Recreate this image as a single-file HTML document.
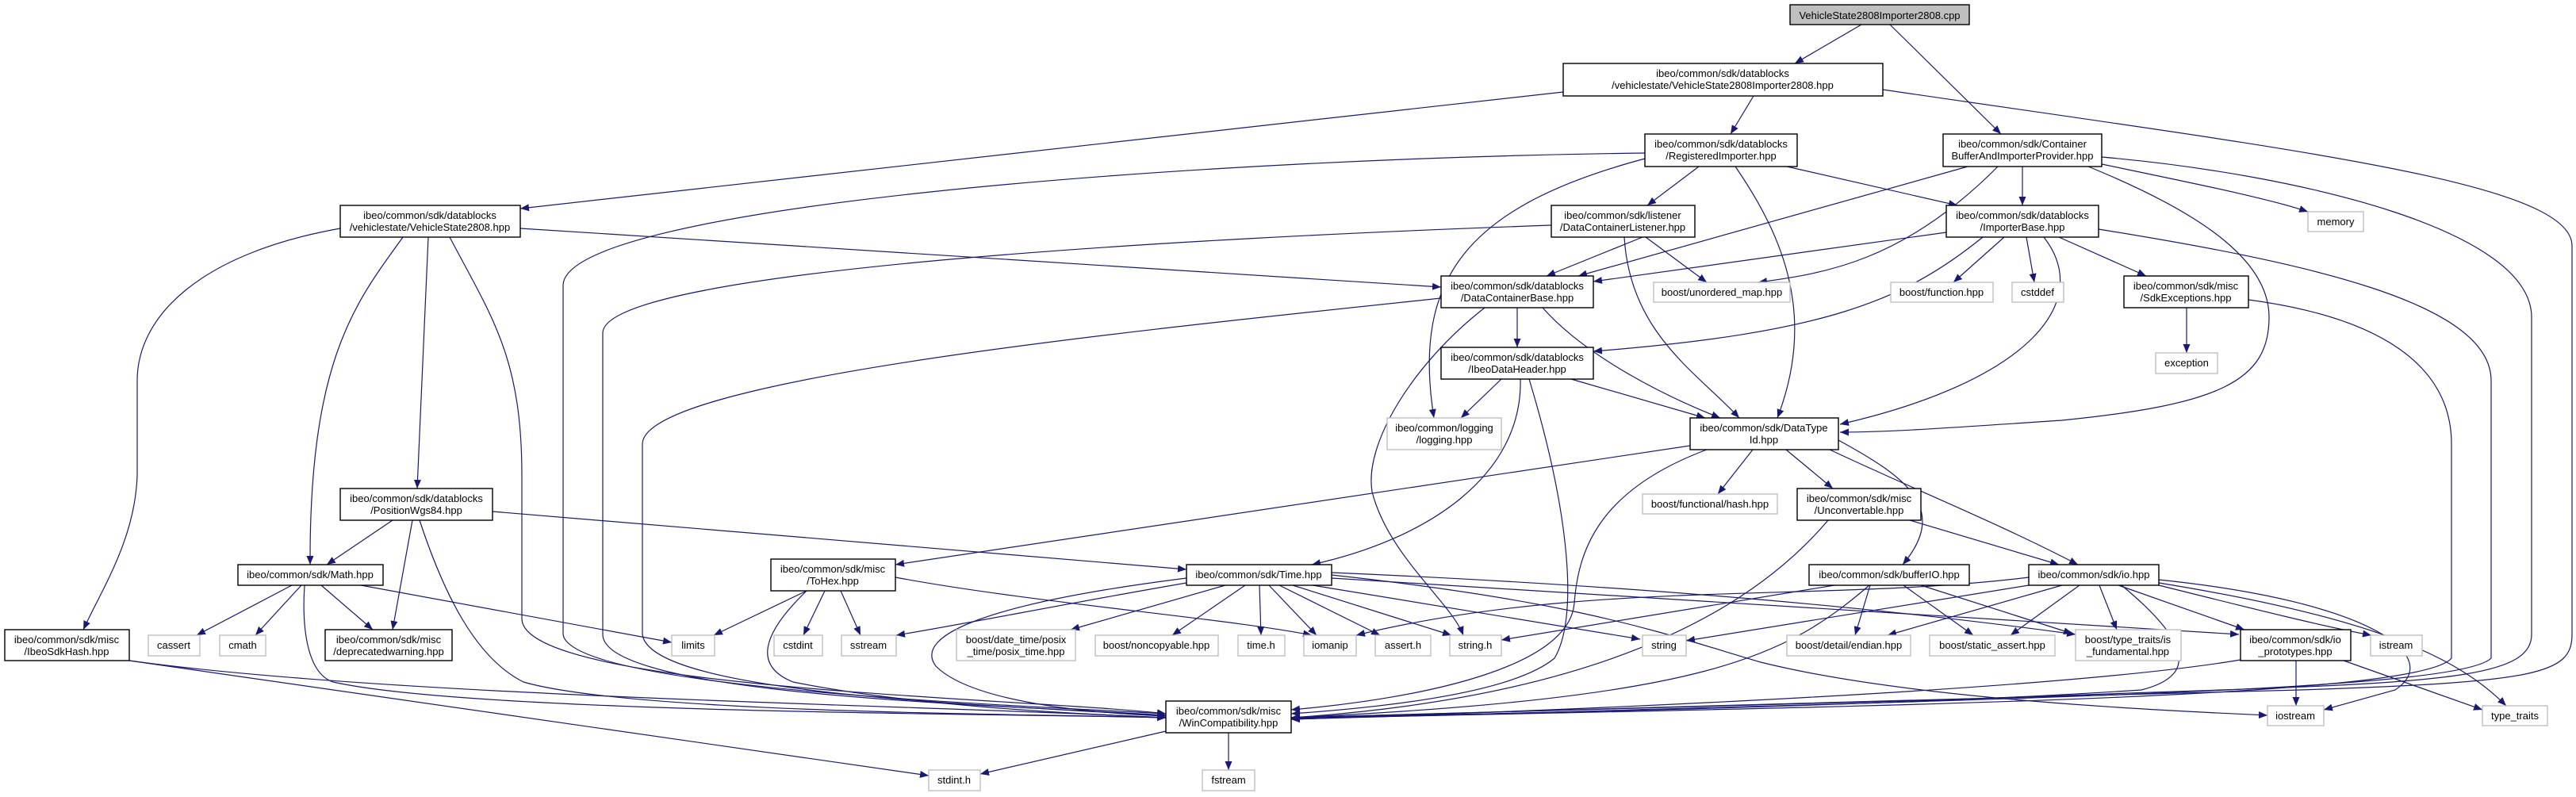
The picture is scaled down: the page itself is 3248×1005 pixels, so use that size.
<!DOCTYPE html>
<html><head><meta charset="utf-8"><style>
html,body{margin:0;padding:0;background:#fff;}
svg{display:block;}
text{font-family:"Liberation Sans",Arial,sans-serif;font-size:13px;fill:#000;text-anchor:middle;}
.n{fill:#fff;stroke:#000;stroke-width:1.4;}
.g{fill:#fff;stroke:#bfbfbf;stroke-width:1.4;}
.c{fill:#bfbfbf;stroke:#000;stroke-width:1.4;}
path.e{fill:none;stroke:#191970;stroke-width:1.2;marker-end:url(#a);}
</style></head><body>
<svg width="3248" height="1005" viewBox="0 0 3248 1005" xmlns="http://www.w3.org/2000/svg">
<defs><marker id="a" markerUnits="userSpaceOnUse" markerWidth="12" markerHeight="10" refX="11" refY="4.5" orient="auto"><path d="M0,0 L11,4.5 L0,9 z" fill="#191970"/></marker></defs>
<g>
<path class="e" d="M2347,31 L2263,80"/>
<path class="e" d="M2383,31 L2523,169"/>
<path class="e" d="M1971,116 L656,263"/>
<path class="e" d="M2211,121 L2182,169"/>
<path class="e" d="M2374,113 C2900,190 3243,230 3243,310 L3243,800 C3243,850 3200,860 2900,870 C2500,880 1800,900 1628,905"/>
<path class="e" d="M2142,210 L2077,259"/>
<path class="e" d="M2253,210 L2468,259"/>
<path class="e" d="M2188,210 C2250,300 2290,400 2241,527"/>
<path class="e" d="M2074,200 C1850,260 1780,350 1808,527"/>
<path class="e" d="M2074,193 C1500,200 710,260 710,360 L710,800 C720,870 1300,890 1470,900"/>
<path class="e" d="M656,288 L1817,362"/>
<path class="e" d="M540,299 L526,616"/>
<path class="e" d="M508,299 C450,380 390,450 391,712"/>
<path class="e" d="M429,288 C250,320 173,400 173,480 L173,600 C170,680 130,740 105,794"/>
<path class="e" d="M567,299 C620,400 658,450 658,600 L658,780 C658,870 1300,880 1470,900"/>
<path class="e" d="M2550,210 L2550,259"/>
<path class="e" d="M2481,210 L1990,348"/>
<path class="e" d="M2519,210 C2400,330 2300,345 2217,356"/>
<path class="e" d="M2650,207 C2760,230 2860,250 2910,267"/>
<path class="e" d="M2633,210 C2780,270 2861,330 2861,400 C2861,480 2800,510 2600,530 C2450,540 2380,545 2320,545"/>
<path class="e" d="M2650,198 C2900,220 3192,290 3192,400 L3192,800 C3192,850 3100,860 2800,870 C2400,885 1900,900 1628,905"/>
<path class="e" d="M2071,299 L1950,348"/>
<path class="e" d="M2075,299 L2152,356"/>
<path class="e" d="M2048,299 C2055,420 2140,470 2193,527"/>
<path class="e" d="M1956,284 C1500,300 760,340 760,420 L760,800 C760,880 1300,890 1470,902"/>
<path class="e" d="M2454,293 L2009,355"/>
<path class="e" d="M2500,299 C2400,380 2300,420 2009,443"/>
<path class="e" d="M2577,299 C2640,380 2560,480 2320,535"/>
<path class="e" d="M2527,299 L2463,356"/>
<path class="e" d="M2555,299 L2565,356"/>
<path class="e" d="M2596,299 L2706,348"/>
<path class="e" d="M2646,289 C2900,330 3141,380 3141,480 L3141,830 C3100,870 2600,880 1628,907"/>
<path class="e" d="M2757,388 L2757,445"/>
<path class="e" d="M2835,378 C3000,400 3091,460 3091,560 L3091,830 C3050,880 2400,890 1628,906"/>
<path class="e" d="M1913,388 L1913,438"/>
<path class="e" d="M1945,388 C2000,450 2100,500 2169,527"/>
<path class="e" d="M1817,376 C1400,420 810,480 810,560 L810,800 C820,880 1300,890 1470,903"/>
<path class="e" d="M1872,388 C1780,460 1720,560 1730,620 C1750,700 1830,760 1845,801"/>
<path class="e" d="M1893,478 L1842,527"/>
<path class="e" d="M1981,478 L2150,527"/>
<path class="e" d="M1917,478 C1920,600 1800,680 1654,712"/>
<path class="e" d="M1928,478 C1980,650 1990,780 1960,830 C1900,880 1700,895 1628,900"/>
<path class="e" d="M2210,567 L2166,623"/>
<path class="e" d="M2252,567 L2311,616"/>
<path class="e" d="M2318,555 C2400,600 2460,640 2399,712"/>
<path class="e" d="M2307,567 C2420,620 2520,660 2620,712"/>
<path class="e" d="M2131,562 L1129,712"/>
<path class="e" d="M2152,567 C2010,620 1990,700 1985,760 C1980,840 1800,880 1628,895"/>
<path class="e" d="M2408,656 L2596,712"/>
<path class="e" d="M2305,656 C2200,780 2000,880 1628,905"/>
<path class="e" d="M495,656 L412,712"/>
<path class="e" d="M520,656 L495,794"/>
<path class="e" d="M621,645 L1496,718"/>
<path class="e" d="M529,656 C560,750 600,830 660,860 C800,900 1300,900 1470,905"/>
<path class="e" d="M368,738 L248,801"/>
<path class="e" d="M380,738 L322,801"/>
<path class="e" d="M405,738 L470,794"/>
<path class="e" d="M455,738 L847,810"/>
<path class="e" d="M384,738 C380,800 390,850 420,860 C600,900 1300,900 1470,905"/>
<path class="e" d="M163,833 C500,880 1200,890 1470,905"/>
<path class="e" d="M163,833 L1171,978"/>
<path class="e" d="M1017,745 L900,801"/>
<path class="e" d="M1040,745 L1013,801"/>
<path class="e" d="M1060,745 L1085,801"/>
<path class="e" d="M1129,728 C1300,760 1550,780 1654,801"/>
<path class="e" d="M1017,745 C960,800 950,840 1000,860 C1150,890 1350,900 1470,905"/>
<path class="e" d="M1496,735 C1350,760 1200,790 1130,801"/>
<path class="e" d="M1545,738 L1350,794"/>
<path class="e" d="M1570,738 L1478,801"/>
<path class="e" d="M1588,738 L1590,801"/>
<path class="e" d="M1600,738 L1660,801"/>
<path class="e" d="M1613,738 L1740,801"/>
<path class="e" d="M1630,738 L1830,801"/>
<path class="e" d="M1655,738 L2068,806"/>
<path class="e" d="M1679,729 L2823,800"/>
<path class="e" d="M1679,725 C2000,760 2100,800 2220,835 C2400,880 2700,895 2859,902"/>
<path class="e" d="M1679,722 C2100,740 2400,770 2617,800"/>
<path class="e" d="M1496,729 C1250,760 1150,800 1180,840 C1230,890 1400,900 1470,903"/>
<path class="e" d="M2358,738 L2339,801"/>
<path class="e" d="M2400,738 L2488,801"/>
<path class="e" d="M2422,738 L2613,799"/>
<path class="e" d="M2313,738 L1893,807"/>
<path class="e" d="M2357,738 C2250,830 2150,880 1628,905"/>
<path class="e" d="M2558,738 L2126,808"/>
<path class="e" d="M2558,728 C2300,760 2000,730 1710,801"/>
<path class="e" d="M2600,738 L2380,801"/>
<path class="e" d="M2622,738 L2535,801"/>
<path class="e" d="M2647,738 L2669,794"/>
<path class="e" d="M2671,738 L2830,794"/>
<path class="e" d="M2722,738 C2850,770 2930,790 2990,801"/>
<path class="e" d="M2722,731 C3000,760 3080,830 3020,870 L2930,895"/>
<path class="e" d="M2722,735 C3000,780 3100,830 3160,890"/>
<path class="e" d="M2675,738 C2750,800 2780,850 2700,870 C2400,890 1900,900 1628,905"/>
<path class="e" d="M2895,833 L2895,890"/>
<path class="e" d="M2955,833 L3130,895"/>
<path class="e" d="M2825,832 C2600,870 2000,895 1628,907"/>
<path class="e" d="M1470,922 L1236,976"/>
<path class="e" d="M1549,923 L1549,971"/>
</g>
<g>
<rect class="c" x="2257" y="6" width="226" height="25"/><text x="2370" y="24">VehicleState2808Importer2808.cpp</text>
<rect class="n" x="1971" y="80" width="403" height="41"/><text x="2172" y="97">ibeo/common/sdk/datablocks</text><text x="2172" y="112">/vehiclestate/VehicleState2808Importer2808.hpp</text>
<rect class="n" x="429" y="259" width="227" height="40"/><text x="542" y="276">ibeo/common/sdk/datablocks</text><text x="542" y="291">/vehiclestate/VehicleState2808.hpp</text>
<rect class="n" x="2074" y="169" width="192" height="41"/><text x="2170" y="186">ibeo/common/sdk/datablocks</text><text x="2170" y="201">/RegisteredImporter.hpp</text>
<rect class="n" x="2450" y="169" width="200" height="41"/><text x="2550" y="186">ibeo/common/sdk/Container</text><text x="2550" y="201">BufferAndImporterProvider.hpp</text>
<rect class="n" x="1956" y="259" width="181" height="40"/><text x="2046" y="276">ibeo/common/sdk/listener</text><text x="2046" y="291">/DataContainerListener.hpp</text>
<rect class="n" x="2454" y="259" width="192" height="40"/><text x="2550" y="276">ibeo/common/sdk/datablocks</text><text x="2550" y="291">/ImporterBase.hpp</text>
<rect class="g" x="2910" y="267" width="70" height="25"/><text x="2945" y="284">memory</text>
<rect class="n" x="1817" y="348" width="192" height="40"/><text x="1913" y="365">ibeo/common/sdk/datablocks</text><text x="1913" y="380">/DataContainerBase.hpp</text>
<rect class="g" x="2085" y="356" width="172" height="25"/><text x="2171" y="373">boost/unordered_map.hpp</text>
<rect class="g" x="2384" y="356" width="129" height="25"/><text x="2448" y="373">boost/function.hpp</text>
<rect class="g" x="2537" y="356" width="65" height="25"/><text x="2569" y="373">cstddef</text>
<rect class="n" x="2678" y="348" width="157" height="40"/><text x="2756" y="365">ibeo/common/sdk/misc</text><text x="2756" y="380">/SdkExceptions.hpp</text>
<rect class="n" x="1817" y="438" width="192" height="40"/><text x="1913" y="455">ibeo/common/sdk/datablocks</text><text x="1913" y="470">/IbeoDataHeader.hpp</text>
<rect class="g" x="2718" y="445" width="78" height="26"/><text x="2757" y="462">exception</text>
<rect class="g" x="1749" y="527" width="144" height="40"/><text x="1821" y="544">ibeo/common/logging</text><text x="1821" y="559">/logging.hpp</text>
<rect class="n" x="2131" y="527" width="187" height="40"/><text x="2224" y="544">ibeo/common/sdk/DataType</text><text x="2224" y="559">Id.hpp</text>
<rect class="g" x="2071" y="623" width="170" height="25"/><text x="2156" y="640">boost/functional/hash.hpp</text>
<rect class="n" x="2266" y="616" width="156" height="40"/><text x="2344" y="633">ibeo/common/sdk/misc</text><text x="2344" y="648">/Unconvertable.hpp</text>
<rect class="n" x="429" y="616" width="192" height="40"/><text x="525" y="633">ibeo/common/sdk/datablocks</text><text x="525" y="648">/PositionWgs84.hpp</text>
<rect class="n" x="972" y="705" width="157" height="40"/><text x="1050" y="722">ibeo/common/sdk/misc</text><text x="1050" y="737">/ToHex.hpp</text>
<rect class="n" x="300" y="712" width="183" height="26"/><text x="391" y="729">ibeo/common/sdk/Math.hpp</text>
<rect class="n" x="1496" y="712" width="183" height="26"/><text x="1587" y="729">ibeo/common/sdk/Time.hpp</text>
<rect class="n" x="2281" y="712" width="202" height="26"/><text x="2382" y="729">ibeo/common/sdk/bufferIO.hpp</text>
<rect class="n" x="2558" y="712" width="164" height="26"/><text x="2640" y="729">ibeo/common/sdk/io.hpp</text>
<rect class="n" x="6" y="794" width="157" height="39"/><text x="84" y="811">ibeo/common/sdk/misc</text><text x="84" y="826">/IbeoSdkHash.hpp</text>
<rect class="g" x="187" y="801" width="65" height="26"/><text x="219" y="818">cassert</text>
<rect class="g" x="277" y="801" width="58" height="26"/><text x="306" y="818">cmath</text>
<rect class="n" x="410" y="794" width="160" height="39"/><text x="490" y="811">ibeo/common/sdk/misc</text><text x="490" y="826">/deprecatedwarning.hpp</text>
<rect class="g" x="847" y="801" width="54" height="26"/><text x="874" y="818">limits</text>
<rect class="g" x="976" y="801" width="61" height="26"/><text x="1006" y="818">cstdint</text>
<rect class="g" x="1061" y="801" width="69" height="26"/><text x="1095" y="818">sstream</text>
<rect class="g" x="1206" y="794" width="150" height="39"/><text x="1281" y="811">boost/date_time/posix</text><text x="1281" y="826">_time/posix_time.hpp</text>
<rect class="g" x="1381" y="801" width="155" height="26"/><text x="1458" y="818">boost/noncopyable.hpp</text>
<rect class="g" x="1561" y="801" width="59" height="26"/><text x="1590" y="818">time.h</text>
<rect class="g" x="1644" y="801" width="66" height="26"/><text x="1677" y="818">iomanip</text>
<rect class="g" x="1734" y="801" width="70" height="26"/><text x="1769" y="818">assert.h</text>
<rect class="g" x="1828" y="801" width="65" height="26"/><text x="1860" y="818">string.h</text>
<rect class="g" x="2071" y="801" width="55" height="26"/><text x="2098" y="818">string</text>
<rect class="g" x="2253" y="801" width="156" height="26"/><text x="2331" y="818">boost/detail/endian.hpp</text>
<rect class="g" x="2433" y="801" width="158" height="26"/><text x="2512" y="818">boost/static_assert.hpp</text>
<rect class="g" x="2617" y="794" width="133" height="39"/><text x="2683" y="811">boost/type_traits/is</text><text x="2683" y="826">_fundamental.hpp</text>
<rect class="n" x="2825" y="794" width="139" height="39"/><text x="2894" y="811">ibeo/common/sdk/io</text><text x="2894" y="826">_prototypes.hpp</text>
<rect class="g" x="2989" y="801" width="65" height="26"/><text x="3021" y="818">istream</text>
<rect class="n" x="1470" y="884" width="158" height="40"/><text x="1549" y="901">ibeo/common/sdk/misc</text><text x="1549" y="916">/WinCompatibility.hpp</text>
<rect class="g" x="2859" y="890" width="71" height="25"/><text x="2894" y="907">iostream</text>
<rect class="g" x="3130" y="890" width="82" height="25"/><text x="3171" y="907">type_traits</text>
<rect class="g" x="1171" y="971" width="65" height="26"/><text x="1203" y="988">stdint.h</text>
<rect class="g" x="1516" y="971" width="66" height="26"/><text x="1549" y="988">fstream</text>
</g>
</svg>
</body></html>
